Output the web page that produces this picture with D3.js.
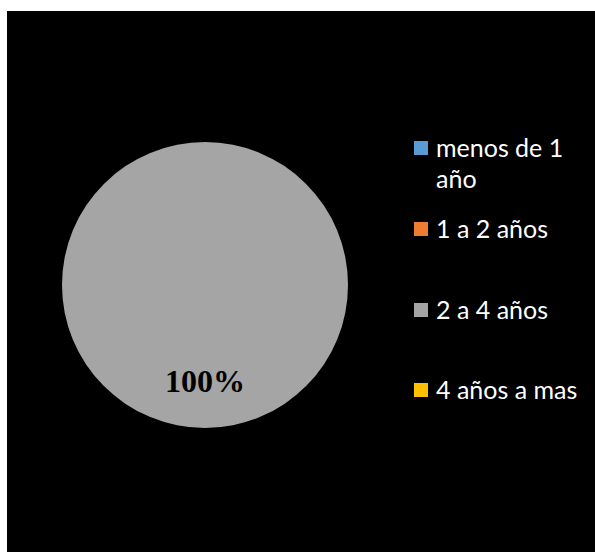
<!DOCTYPE html>
<html>
<head>
<meta charset="utf-8">
<script src="https://cdn.jsdelivr.net/npm/d3@7"></script>
<style>
  html, body { margin: 0; padding: 0; background: #ffffff; }
  svg { display: block; }
</style>
</head>
<body>
<svg id="chart" width="595" height="552"></svg>
<script>
// Antigüedad: share of respondents per range
const categories = ["menos de 1 año", "1 a 2 años", "2 a 4 años", "4 años a mas"];
const legendLines = [["menos de 1", "año"], ["1 a 2 años"], ["2 a 4 años"], ["4 años a mas"]];
const values = [0, 0, 100, 0];
const colors = ["#5b9bd5", "#ed7d31", "#a5a5a5", "#ffc000"];

const svg = d3.select("#chart");
const W = 595, H = 552;

// dark plot area
svg.append("rect")
  .attr("x", 7).attr("y", 11)
  .attr("width", W - 7).attr("height", H - 11)
  .attr("fill", "#000000");

const cx = 205, cy = 285, r = 143;
const color = d3.scaleOrdinal().domain(categories).range(colors);

const pie = d3.pie().sort(null).value(d => d.value);
const data = categories.map((c, i) => ({ name: c, value: values[i] }));
const arcs = pie(data);

const arc = d3.arc().innerRadius(0).outerRadius(r);
const labelArc = d3.arc().innerRadius(r * 0.67).outerRadius(r * 0.67);

const g = svg.append("g").attr("transform", `translate(${cx},${cy})`);

g.selectAll("path.slice")
  .data(arcs.filter(d => d.data.value > 0))
  .join("path")
  .attr("class", "slice")
  .attr("d", arc)
  .attr("fill", d => color(d.data.name));

const total = d3.sum(values);
g.selectAll("text.pct")
  .data(arcs.filter(d => d.data.value > 0))
  .join("text")
  .attr("class", "pct")
  .attr("transform", d => `translate(${labelArc.centroid(d)})`)
  .attr("text-anchor", "middle")
  .attr("dy", "0.35em")
  .attr("font-family", "'Liberation Serif', 'Times New Roman', serif")
  .attr("font-weight", "bold")
  .attr("font-size", 32)
  .attr("fill", "#000000")
  .text(d => d3.format(".0%")(d.data.value / total));

// legend
const legendX = 414;
const rowY = [148, 229, 310, 390]; // square centres
const sq = 14;
const lg = svg.append("g");
const items = lg.selectAll("g.item")
  .data(categories)
  .join("g")
  .attr("class", "item")
  .attr("transform", (d, i) => `translate(${legendX},${rowY[i]})`);

items.append("rect")
  .attr("x", 0).attr("y", -sq / 2)
  .attr("width", sq).attr("height", sq)
  .attr("fill", d => color(d));

items.append("text")
  .attr("x", 22)
  .attr("y", 0)
  .attr("font-family", "Lato, 'Open Sans', sans-serif")
  .attr("font-size", 25)
  .attr("fill", "#ffffff")
  .selectAll("tspan")
  .data((d, i) => legendLines[i])
  .join("tspan")
  .attr("x", 22)
  .attr("dy", (d, j) => j === 0 ? "0.35em" : "1.25em")
  .text(d => d);
</script>
</body>
</html>
